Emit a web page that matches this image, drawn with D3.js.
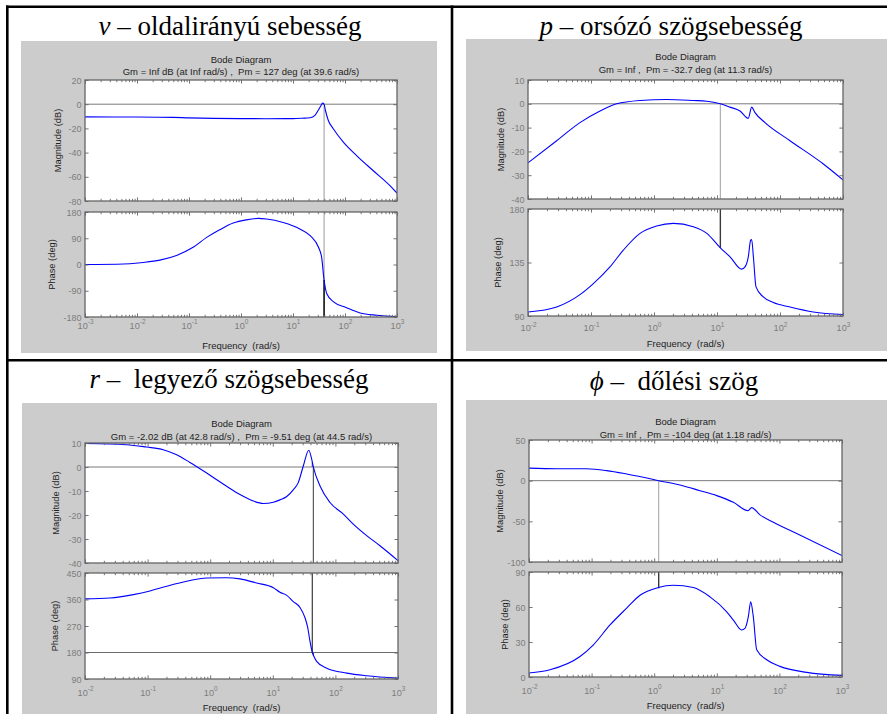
<!DOCTYPE html>
<html>
<head>
<meta charset="utf-8">
<script src="https://cdn.jsdelivr.net/npm/d3@7"></script>
<style>
  body { margin: 0; background: #ffffff; }
  svg text { font-family: "Liberation Sans", Arial, sans-serif; white-space: pre; }
  svg text.head { font-family: "Liberation Serif", "Times New Roman", serif; }
</style>
</head>
<body>
<svg id="chart" width="887" height="714"></svg>
<script>
// ---- v: lateral velocity ----
const vMagFreq = [0.001, 0.01, 0.05, 0.1, 0.3, 1, 3, 10, 15, 21.4, 26.4, 30.6, 34, 37.2, 39.6, 42, 47.6, 59.6, 93, 167, 350, 740, 1000];
const vMagDb   = [-10.5, -10.6, -10.9, -11.3, -11.7, -11.9, -12.0, -11.9, -11.6, -11.2, -9.2, -5, -1.7, 0.9, 0, -5, -13.3, -20.3, -31.4, -42.5, -55, -67.5, -73.5];
const vPhaseFreq = [0.001, 0.0041, 0.0132, 0.0275, 0.0575, 0.12, 0.219, 0.389, 0.708, 1.26, 2.14, 3.09, 6.46, 13.5, 21.4, 30.9, 35.5, 39.6, 44.7, 60.3, 107, 195, 407, 1000];
const vPhaseDeg  = [0, 1, 7, 15, 31, 59, 93, 119, 142, 153, 158, 156, 144, 122, 99, 59, 25, -53, -100, -128, -148, -166, -174, -179];

// ---- p: roll rate ----
const pMagFreq = [0.01, 0.0285, 0.0668, 0.139, 0.255, 0.6, 1.58, 4.2, 6.9, 11.3, 16.1, 23.2, 31.4, 35.5, 40.1, 57.8, 144, 488, 1000];
const pMagDb   = [-24.8, -15.5, -7.9, -3, 0, 1.4, 1.8, 1.4, 1.1, 0, -1.4, -3, -6.1, -1.4, -3.7, -7.9, -15.5, -25.3, -32];
const pPhaseFreq = [0.01, 0.0285, 0.0668, 0.109, 0.2, 0.326, 0.6, 1.1, 2.03, 4.2, 6.9, 11.3, 16.1, 24.7, 27.8, 31.4, 34.2, 35.5, 37.8, 41.6, 54.3, 78.3, 144, 338, 1000];
const pPhaseDeg  = [93.4, 97.6, 108, 117.3, 131.3, 145.4, 159.5, 165.7, 167.9, 165.1, 159.5, 147.3, 139.8, 129.4, 131.3, 139.8, 153.8, 154.4, 139.8, 114.5, 106, 101.3, 97.6, 93.4, 91.3];

// ---- r: yaw rate ----
const rMagFreq = [0.01, 0.0463, 0.0966, 0.178, 0.291, 0.475, 0.879, 1.83, 2.99, 4.89, 7.06, 10.2, 13, 16.7, 21.2, 25.5, 30.7, 37.5, 42.8, 44.5, 56.8, 82, 134, 193, 316, 515, 1000];
const rMagDb   = [9.8, 9.3, 8.3, 7.2, 5.1, 1.9, -2.5, -8, -11.5, -14.2, -15.2, -14.7, -13.7, -12.3, -9.5, -6.5, 0.4, 7.0, 2.02, 0, -7.9, -14.8, -19.6, -23.8, -28.6, -32.8, -39];
const rPhaseFreq = [0.01, 0.0251, 0.0592, 0.109, 0.202, 0.421, 0.879, 1.83, 2.99, 5.52, 10.2, 13, 16.7, 21.2, 27.2, 32.7, 36, 39.5, 42.8, 44.5, 50.1, 72.6, 152, 316, 1000];
const rPhaseDeg  = [362, 365, 376.6, 389, 405, 422, 433, 434, 430, 416, 400, 384.5, 374, 353, 333, 298, 266, 215, 180, 170.5, 150, 126.7, 110, 101, 93];

// ---- phi: bank angle ----
const phiMagFreq = [0.01, 0.0277, 0.0834, 0.174, 0.363, 0.67, 1.18, 2.58, 5.39, 9.96, 18.4, 31.6, 36, 49, 80, 189, 1000];
const phiMagDb   = [15.4, 14.6, 14.6, 12.4, 8.2, 4.1, 0, -5.3, -12.3, -18.4, -26.6, -36.9, -33.2, -42, -51.2, -65, -92];
const phiPhaseFreq = [0.01, 0.0216, 0.0653, 0.106, 0.197, 0.363, 0.593, 1.16, 2.02, 4.22, 7.79, 14.4, 18.4, 24.9, 28.2, 31.9, 34.8, 38.3, 43.4, 62.7, 102, 273, 1000];
const phiPhaseDeg  = [3.4, 6.2, 17.6, 27.4, 44.6, 59, 70.1, 76.7, 78.6, 76.7, 68.7, 55.9, 48.8, 40.3, 41.7, 51.7, 64.4, 51.7, 23.3, 14.8, 9.1, 4.0, 1.4];

// ---- headings and margin summaries ----
const headSymbols = ["v", "p", "r", "\u03D5"];
const headTexts = [" \u2013 oldalirányú sebesség", " \u2013 orsózó szögsebesség", " \u2013  legyező szögsebesség", " \u2013  dőlési szög"];
const marginTexts = [
  "Gm = Inf dB (at Inf rad/s) ,  Pm = 127 deg (at 39.6 rad/s)",
  "Gm = Inf ,  Pm = -32.7 deg (at 11.3 rad/s)",
  "Gm = -2.02 dB (at 42.8 rad/s) ,  Pm = -9.51 deg (at 44.5 rad/s)",
  "Gm = Inf ,  Pm = -104 deg (at 1.18 rad/s)"
];

// ---- axis ticks ----
const freqDomains = [[1e-3, 1e3], [1e-2, 1e3], [1e-2, 1e3], [1e-2, 1e3]];
const vMagTicks = [-80, -60, -40, -20, 0, 20];
const vPhaseTicks = [-180, -90, 0, 90, 180];
const pMagTicks = [-40, -30, -20, -10, 0, 10];
const pPhaseTicks = [90, 135, 180];
const rMagTicks = [-40, -30, -20, -10, 0, 10];
const rPhaseTicks = [90, 180, 270, 360, 450];
const phiMagTicks = [-100, -50, 0, 50];
const phiPhaseTicks = [0, 30, 60, 90];

// ---- stability margins (crossover frequencies and phase there) ----
const gainCrossFreq = [39.6, 11.3, 44.5, 1.18];
const phaseAtGainCross = [-53, 147.3, 170.49, 76];
const phaseCrossFreq = 42.8;   // r only
const gainAtPhaseCross = 2.02; // r only

// ---------------------------------------------------------------
const svg = d3.select("#chart");

const layouts = [
  { gray: [21, 41, 437, 353], left: 85, right: 397, magTop: 80, magBottom: 201, phTop: 212, phBottom: 317,
    headX: 230, headY: 35, titleY: [62.6, 75], magLabelX: 58, phLabelX: 52, tickDy: 11.5, freqY: 349 },
  { gray: [466, 39, 887, 351], left: 528, right: 843, magTop: 80, magBottom: 199, phTop: 209, phBottom: 316,
    headX: 671, headY: 35, titleY: [60.3, 73.3], magLabelX: 501, phLabelX: 498, tickDy: 15.3, freqY: 346.5 },
  { gray: [22, 403, 437, 714], left: 85, right: 398, magTop: 443, magBottom: 563, phTop: 573, phBottom: 679,
    headX: 229, headY: 388, titleY: [426.6, 440], magLabelX: 56, phLabelX: 55, tickDy: 16.8, freqY: 710.5 },
  { gray: [466, 400, 887, 714], left: 529, right: 842, magTop: 440, magBottom: 562, phTop: 572, phBottom: 677,
    headX: 674, headY: 390, titleY: [425, 438.3], magLabelX: 500, phLabelX: 505, tickDy: 16.8, freqY: 709 }
];

const panels = [
  { mag: d3.zip(vMagFreq, vMagDb), phase: d3.zip(vPhaseFreq, vPhaseDeg), magDomain: [-80, 20], phDomain: [-180, 180],
    magTicks: vMagTicks, phTicks: vPhaseTicks },
  { mag: d3.zip(pMagFreq, pMagDb), phase: d3.zip(pPhaseFreq, pPhaseDeg), magDomain: [-40, 10], phDomain: [90, 180],
    magTicks: pMagTicks, phTicks: pPhaseTicks },
  { mag: d3.zip(rMagFreq, rMagDb), phase: d3.zip(rPhaseFreq, rPhaseDeg), magDomain: [-40, 10], phDomain: [90, 450],
    magTicks: rMagTicks, phTicks: rPhaseTicks },
  { mag: d3.zip(phiMagFreq, phiMagDb), phase: d3.zip(phiPhaseFreq, phiPhaseDeg), magDomain: [-100, 50], phDomain: [0, 90],
    magTicks: phiMagTicks, phTicks: phiPhaseTicks }
];

const FRAME = "#666666", TICKTXT = "#7d7d7d", DARK = "#1e1e1e";

// gray figure backgrounds
layouts.forEach(L => {
  svg.append("rect").attr("x", L.gray[0]).attr("y", L.gray[1])
    .attr("width", L.gray[2] - L.gray[0]).attr("height", L.gray[3] - L.gray[1])
    .attr("fill", "#cccccc");
});

// table rules
const rules = svg.append("g").attr("stroke", "#000").attr("stroke-width", 2.6);
rules.append("line").attr("x1", 7.3).attr("x2", 7.3).attr("y1", 5.4).attr("y2", 714);
rules.append("line").attr("x1", 6).attr("x2", 887).attr("y1", 6.7).attr("y2", 6.7);
rules.append("line").attr("x1", 452).attr("x2", 452).attr("y1", 5.4).attr("y2", 714);
rules.append("line").attr("x1", 6).attr("x2", 887).attr("y1", 360.3).attr("y2", 360.3);

function decadeTicks(domain) {
  const lo = Math.round(Math.log10(domain[0])), hi = Math.round(Math.log10(domain[1]));
  const major = [], minor = [];
  for (let e = lo; e <= hi; e++) {
    major.push(Math.pow(10, e));
    if (e < hi) for (let k = 2; k <= 9; k++) minor.push(k * Math.pow(10, e));
  }
  return { major, minor };
}

function drawAxesBox(g, x, y, top, bottom, left, right, yTicks, id, withXLabels, tickDy) {
  const { major, minor } = decadeTicks(x.domain());
  const clipId = "clip-" + id;
  svg.append("clipPath").attr("id", clipId).append("rect")
    .attr("x", left).attr("y", top).attr("width", right - left).attr("height", bottom - top);
  g.append("rect").attr("x", left).attr("y", top).attr("width", right - left).attr("height", bottom - top)
    .attr("fill", "#ffffff");

  const plot = g.append("g").attr("clip-path", `url(#${clipId})`);

  const styleAxis = sel => {
    sel.select(".domain").remove();
    sel.selectAll(".tick line").attr("stroke", FRAME).attr("stroke-width", 0.9);
    sel.selectAll(".tick text").attr("fill", TICKTXT).attr("font-size", 9)
      .attr("font-family", "Liberation Sans, Arial, sans-serif");
  };

  // frequency ticks, pointing into the box, top and bottom
  [[bottom, d3.axisBottom], [top, d3.axisTop]].forEach(([yy, axisFn]) => {
    g.append("g").attr("transform", `translate(0,${yy})`)
      .call(axisFn(x).tickValues(minor).tickSize(-2.2).tickFormat("")).call(styleAxis);
    g.append("g").attr("transform", `translate(0,${yy})`)
      .call(axisFn(x).tickValues(major).tickSize(-3.6).tickFormat("")).call(styleAxis);
  });

  // value ticks left (labelled) and right
  const yl = g.append("g").attr("transform", `translate(${left},0)`)
    .call(d3.axisLeft(y).tickValues(yTicks).tickSize(-3.6).tickPadding(3.5).tickFormat(d => String(d)))
    .call(styleAxis);
  yl.selectAll(".tick text").attr("dy", "0.34em");
  g.append("g").attr("transform", `translate(${right},0)`)
    .call(d3.axisRight(y).tickValues(yTicks).tickSize(-3.6).tickFormat("")).call(styleAxis);

  if (withXLabels) {
    const xl = g.append("g").attr("transform", `translate(0,${bottom})`)
      .call(d3.axisBottom(x).tickValues(major).tickSize(0).tickFormat(""))
      .call(styleAxis);
    xl.selectAll(".tick").append("text")
      .attr("y", tickDy).attr("text-anchor", "middle")
      .attr("fill", TICKTXT).attr("font-size", 9.2)
      .each(function (d) {
        const t = d3.select(this);
        t.append("tspan").text("10");
        t.append("tspan").attr("dy", -4.6).attr("font-size", 6.4).text(String(Math.round(Math.log10(d))));
      });
  }

  return plot;
}

function frame(g, top, bottom, left, right) {
  g.append("rect").attr("x", left).attr("y", top).attr("width", right - left).attr("height", bottom - top)
    .attr("fill", "none").attr("stroke", FRAME).attr("stroke-width", 1.3);
}

panels.forEach((P, i) => {
  const L = layouts[i];
  const g = svg.append("g");
  const x = d3.scaleLog().domain(freqDomains[i]).range([L.left, L.right]);
  const yM = d3.scaleLinear().domain(P.magDomain).range([L.magBottom, L.magTop]);
  const yP = d3.scaleLinear().domain(P.phDomain).range([L.phBottom, L.phTop]);

  // heading of the table cell
  const head = g.append("text").attr("class", "head").attr("x", L.headX).attr("y", L.headY)
    .attr("text-anchor", "middle").attr("font-size", 27).attr("fill", "#000");
  head.append("tspan").attr("font-style", "italic").text(headSymbols[i]);
  head.append("tspan").text(headTexts[i]);

  // plot titles
  const cx = (L.left + L.right) / 2;
  g.append("text").attr("x", cx).attr("y", L.titleY[0]).attr("text-anchor", "middle")
    .attr("font-size", 9.5).attr("fill", DARK).text("Bode Diagram");
  g.append("text").attr("x", cx).attr("y", L.titleY[1]).attr("text-anchor", "middle")
    .attr("font-size", 9.5).attr("fill", DARK).text(marginTexts[i]);

  // axis labels
  g.append("text").attr("transform", `translate(${L.magLabelX},${(L.magTop + L.magBottom) / 2}) rotate(-90)`)
    .attr("text-anchor", "middle").attr("dominant-baseline", "central")
    .attr("font-size", 9.3).attr("fill", DARK).text("Magnitude (dB)");
  g.append("text").attr("transform", `translate(${L.phLabelX},${(L.phTop + L.phBottom) / 2}) rotate(-90)`)
    .attr("text-anchor", "middle").attr("dominant-baseline", "central")
    .attr("font-size", 9.3).attr("fill", DARK).text("Phase (deg)");
  g.append("text").attr("x", cx).attr("y", L.freqY).attr("text-anchor", "middle")
    .attr("font-size", 9.5).attr("fill", DARK).text("Frequency  (rad/s)");

  const magPlot = drawAxesBox(g, x, yM, L.magTop, L.magBottom, L.left, L.right, P.magTicks, "m" + i, false, 0);
  const phPlot = drawAxesBox(g, x, yP, L.phTop, L.phBottom, L.left, L.right, P.phTicks, "p" + i, true, L.tickDy);

  const vline = (plot, f, y0, y1, color, w) => plot.append("line")
    .attr("x1", x(f)).attr("x2", x(f)).attr("y1", y0).attr("y2", y1)
    .attr("stroke", color).attr("stroke-width", w);

  // 0 dB reference
  magPlot.append("line").attr("x1", L.left).attr("x2", L.right).attr("y1", yM(0)).attr("y2", yM(0))
    .attr("stroke", "#7a7a7a").attr("stroke-width", 1);

  const wc = gainCrossFreq[i];
  if (i === 0) {
    vline(magPlot, wc, yM(0), L.magBottom, "#9a9a9a", 1);
    vline(phPlot, wc, L.phTop, L.phBottom, "#9a9a9a", 1);
    vline(phPlot, wc, yP(-180), yP(phaseAtGainCross[i]), "#000000", 1.4);
  } else if (i === 2) {
    phPlot.append("line").attr("x1", L.left).attr("x2", L.right).attr("y1", yP(180)).attr("y2", yP(180))
      .attr("stroke", "#6a6a6a").attr("stroke-width", 1);
    vline(magPlot, wc, yM(0), L.magBottom, "#5a5a5a", 1.2);
    vline(magPlot, phaseCrossFreq, yM(0), yM(gainAtPhaseCross), "#5a5a5a", 1.2);
    vline(phPlot, phaseCrossFreq, L.phTop, yP(180), "#4a4a4a", 1.3);
    vline(phPlot, wc, yP(180), yP(phaseAtGainCross[i]), "#4a4a4a", 1.3);
  } else {
    vline(magPlot, wc, yM(0), L.magBottom, "#a8a8a8", 1.1);
    vline(phPlot, wc, L.phTop, yP(phaseAtGainCross[i]), "#3a3a3a", 1.4);
  }

  const lineM = d3.line().x(d => x(d[0])).y(d => yM(d[1])).curve(d3.curveMonotoneX);
  const lineP = d3.line().x(d => x(d[0])).y(d => yP(d[1])).curve(d3.curveMonotoneX);
  magPlot.append("path").attr("d", lineM(P.mag)).attr("fill", "none").attr("stroke", "#0000ff").attr("stroke-width", 1.1);
  phPlot.append("path").attr("d", lineP(P.phase)).attr("fill", "none").attr("stroke", "#0000ff").attr("stroke-width", 1.1);

  frame(g, L.magTop, L.magBottom, L.left, L.right);
  frame(g, L.phTop, L.phBottom, L.left, L.right);
});
</script>
</body>
</html>
